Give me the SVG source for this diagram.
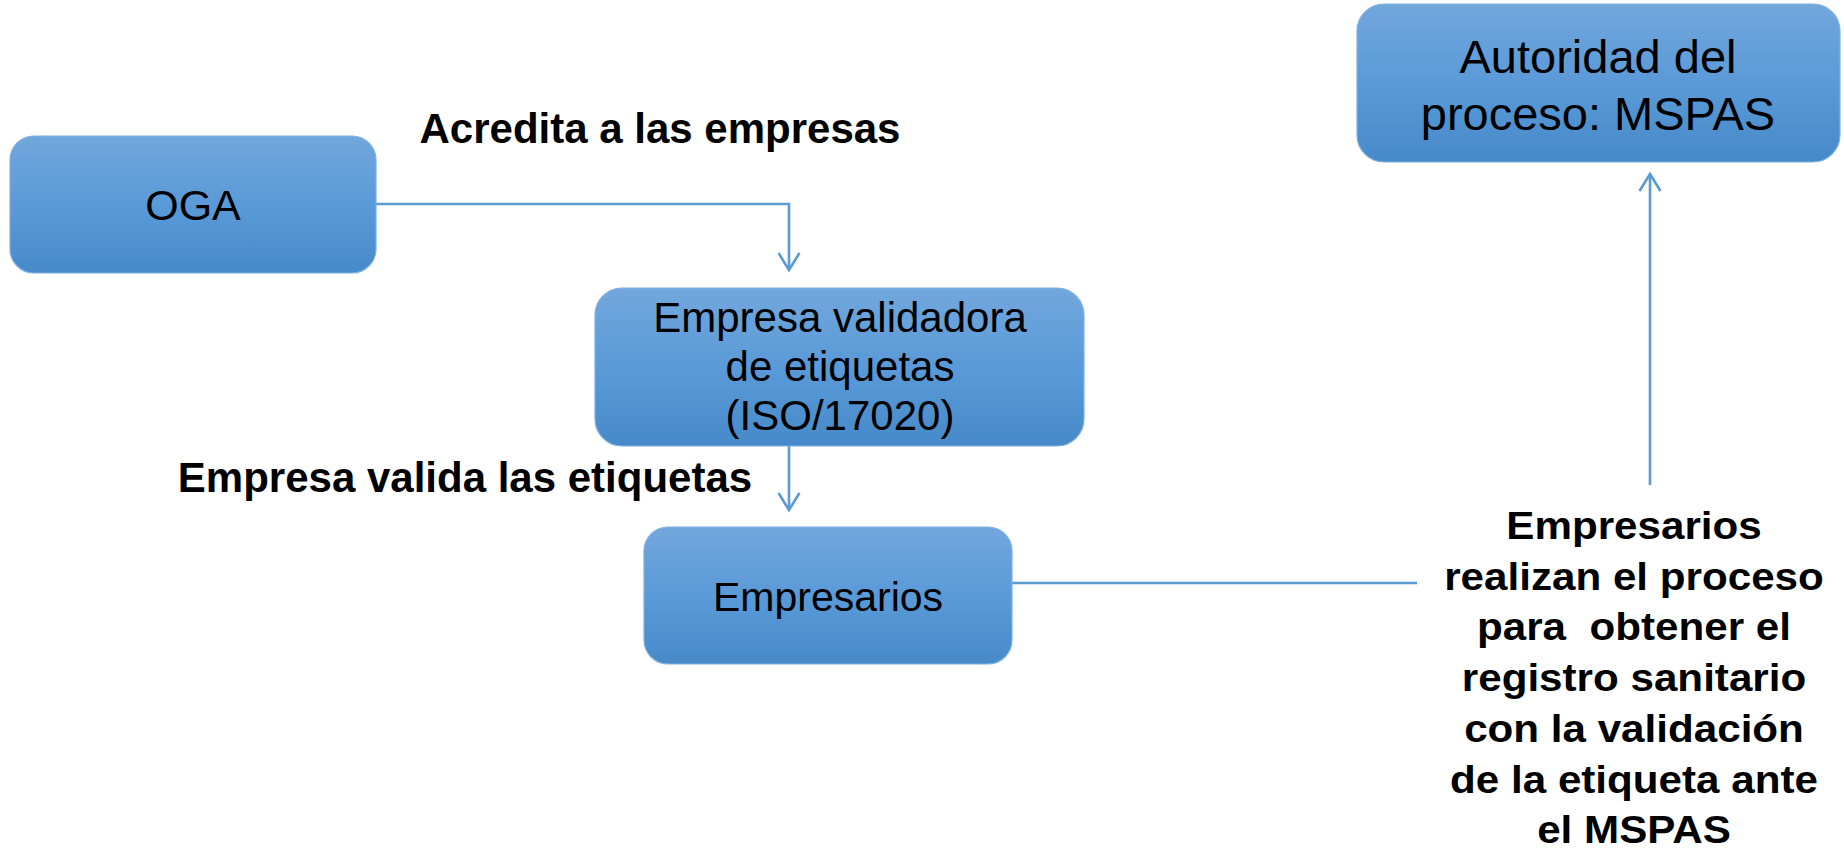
<svg xmlns="http://www.w3.org/2000/svg" width="1844" height="848" viewBox="0 0 1844 848">
<defs>
<linearGradient id="g" x1="0" y1="0" x2="0" y2="1">
<stop offset="0" stop-color="#72a7dc"/>
<stop offset="0.5" stop-color="#5a9ad8"/>
<stop offset="1" stop-color="#478ac9"/>
</linearGradient>
<marker id="arr" markerUnits="userSpaceOnUse" markerWidth="26" markerHeight="26" viewBox="-20 -13 26 26" refX="0" refY="0" orient="auto">
<path d="M-17,-10.5 L0,0 L-17,10.5" fill="none" stroke="#5b9bd5" stroke-width="2.6" stroke-linejoin="miter"/>
</marker>
<style>
.box{fill:url(#g);stroke:#7fb0e0;stroke-width:1.2}
.bt{font-family:"Liberation Sans",Arial,sans-serif;fill:#000;text-anchor:middle}
.lb{font-family:"Liberation Sans",Arial,sans-serif;font-weight:bold;fill:#000;text-anchor:middle}
.c{fill:none;stroke:#5b9bd5;stroke-width:2.6}
</style>
</defs>
<rect width="1844" height="848" fill="#fff"/>
<g id="connectors">
<path class="c" d="M376,204 H789 V270" marker-end="url(#arr)"/>
<path class="c" d="M789,446 V510" marker-end="url(#arr)"/>
<path class="c" d="M1012,583 H1417"/>
<path class="c" d="M1650,485 V174" marker-end="url(#arr)"/>
</g>
<g id="oga">
<rect class="box" x="10" y="136" width="366" height="137" rx="24"/>
<text class="bt" x="193" y="220" font-size="43">OGA</text>
</g>
<g id="validadora">
<rect class="box" x="595" y="288" width="489" height="158" rx="27"/>
<text class="bt" x="840" y="332" font-size="42">Empresa validadora</text>
<text class="bt" x="840" y="381" font-size="42">de etiquetas</text>
<text class="bt" x="840" y="430" font-size="42">(ISO/17020)</text>
</g>
<g id="empresarios">
<rect class="box" x="644" y="527" width="368" height="137" rx="24"/>
<text class="bt" x="828" y="611" font-size="41">Empresarios</text>
</g>
<g id="autoridad">
<rect class="box" x="1357" y="4" width="483" height="158" rx="27"/>
<text class="bt" x="1598" y="73" font-size="47">Autoridad del</text>
<text class="bt" x="1598" y="130" font-size="47">proceso: MSPAS</text>
</g>
<g id="labels">
<text class="lb" x="660" y="143" font-size="42">Acredita a las empresas</text>
<text class="lb" x="465" y="492" font-size="42">Empresa valida las etiquetas</text>
<g transform="translate(1634,0) scale(1.11,1)">
<text class="lb" x="0" y="539" font-size="38">Empresarios</text>
<text class="lb" x="0" y="590" font-size="38">realizan el proceso</text>
<text class="lb" x="0" y="640" font-size="38" xml:space="preserve">para  obtener el</text>
<text class="lb" x="0" y="691" font-size="38">registro sanitario</text>
<text class="lb" x="0" y="742" font-size="38">con la validación</text>
<text class="lb" x="0" y="793" font-size="38">de la etiqueta ante</text>
<text class="lb" x="0" y="843" font-size="38">el MSPAS</text>
</g>
</g>
</svg>
